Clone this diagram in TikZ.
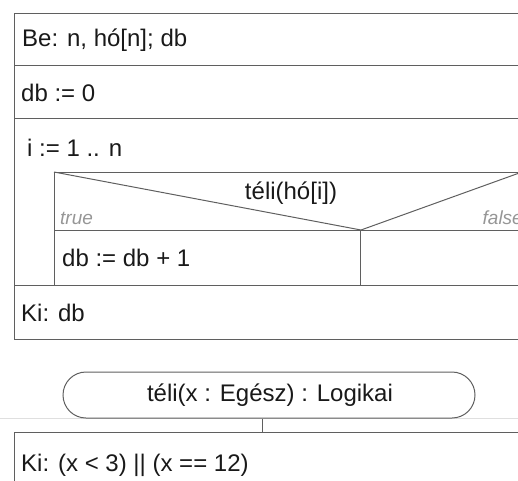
\documentclass[tikz,border=0pt]{standalone}
\usepackage{fontspec}
\setmainfont{Liberation Sans}
\definecolor{ln}{RGB}{95,95,95}
\definecolor{tx}{RGB}{25,25,25}
\definecolor{lbl}{RGB}{150,150,150}
\begin{document}
\begin{tikzpicture}[x=1pt,y=-1pt,
  cell/.style={draw=ln,line width=1pt,rectangle,anchor=north west,inner sep=0pt},
  txt/.style={anchor=west,inner sep=0pt,text=tx,font=\fontsize{24}{28}\selectfont},
  ctxt/.style={inner sep=0pt,text=tx,font=\fontsize{24}{28}\selectfont},
  lab/.style={inner sep=0pt,text=lbl,font=\fontsize{19}{22}\selectfont\itshape},
  conn/.style={draw=ln,line width=1pt}]
\useasboundingbox (0,0) rectangle (518,480);
\clip (0,0) rectangle (518,480);
% main structogram
\node[cell,minimum width=507,minimum height=52] (r1) at (14,13) {};
\node[cell,minimum width=507,minimum height=53] (r2) at (14,65) {};
\node[cell,minimum width=507,minimum height=167] (r3) at (14,118) {};
\node[cell,minimum width=507,minimum height=54] (r4) at (14,285) {};
\node[txt] (t1) at (22,40) {Be: n, hó[n]; db};
\node[txt] (t2) at (21,93) {db := 0};
\node[txt] (t3) at (27,148) {i := 1 .. n};
\node[txt] (t4) at (21,313) {Ki: db};
% if block
\node[cell,minimum width=467,minimum height=58] (cond) at (54,172) {};
\node[cell,minimum width=306,minimum height=55] (yes) at (54,230) {};
\node[cell,minimum width=161,minimum height=55] (no) at (360,230) {};
\draw[conn] (cond.north west) -- (yes.north east) -- (cond.north east);
\node[ctxt] (ct) at (291,193) {téli(hó[i])};
\node[lab,anchor=west] (tl) at (60,218) {true};
\node[lab,anchor=east] (fl) at (523,218) {false};
\node[txt] (t5) at (62,258) {db := db + 1};
% function
\draw[gray!25,line width=0.6pt] (0,418) -- (518,418);
\node[draw=ln,line width=1pt,rounded corners=23pt,minimum width=412,minimum height=46,inner sep=0pt] (fn) at (269,395) {};
\node[ctxt] (ft) at (270,395) {téli(x : Egész) : Logikai};
\node[cell,minimum width=507,minimum height=60] (kb) at (14,432) {};
\node[txt] (t6) at (21,465) {Ki: (x < 3) || (x == 12)};
\coordinate (cx) at (262,432);
\draw[conn] (cx) -- (cx |- fn.south);
\end{tikzpicture}
\end{document}
